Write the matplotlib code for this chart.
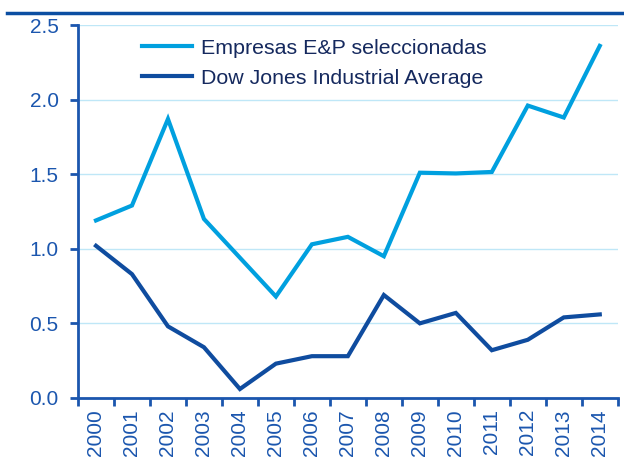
import matplotlib.pyplot as plt
from matplotlib.lines import Line2D

plt.rcParams['font.family'] = ['Liberation Sans', 'DejaVu Sans']

years = ['2000', '2001', '2002', '2003', '2004', '2005', '2006', '2007',
         '2008', '2009', '2010', '2011', '2012', '2013', '2014']
empresas = [1.19, 1.29, 1.87, 1.20, 0.94, 0.68, 1.03, 1.08,
            0.95, 1.51, 1.505, 1.515, 1.96, 1.88, 2.36]
dow_jones = [1.02, 0.83, 0.48, 0.34, 0.06, 0.23, 0.28, 0.28,
             0.69, 0.50, 0.57, 0.32, 0.39, 0.54, 0.56]
labels = ['Empresas E&P seleccionadas', 'Dow Jones Industrial Average']

light = '#00A0DF'
dark = '#0F4C9F'
axis_c = '#1B56AE'

fig = plt.figure(figsize=(6.24, 4.59), dpi=100)
ax = fig.add_axes([0.125, 0.133, 0.865, 0.8125])

x = list(range(len(years)))
ax.plot(x, empresas, c=light, lw=3, solid_joinstyle='miter', label=labels[0])
ax.plot(x, dow_jones, c=dark, lw=3, solid_joinstyle='miter', label=labels[1])

ax.set_xlim(-0.5, len(years) - 0.5)
ax.set_ylim(0, 2.5)
ax.set_yticks([0, 0.5, 1.0, 1.5, 2.0, 2.5])
ax.set_yticklabels(['0.0', '0.5', '1.0', '1.5', '2.0', '2.5'])
ax.set_xticks([i + 0.5 for i in range(-1, len(years))])
ax.set_xticklabels([])
ax.set_xticks(x, minor=True)
ax.set_xticklabels(years, minor=True, rotation=90)
ax.tick_params(axis='x', which='minor', length=0, pad=8, labelsize=15, labelcolor=axis_c)
ax.tick_params(axis='x', which='major', length=6, width=2, color=axis_c, direction='out')
ax.tick_params(axis='y', length=6, width=2, color=axis_c, labelsize=15, labelcolor=axis_c, pad=8)

ax.grid(axis='y', color='#BFE7F7', lw=1)
ax.set_axisbelow(True)
for s in ['top', 'right']:
    ax.spines[s].set_visible(False)
for s in ['left', 'bottom']:
    ax.spines[s].set_color(axis_c)
    ax.spines[s].set_linewidth(2)

leg = ax.legend(loc='upper left', bbox_to_anchor=(0.118, 0.963), frameon=False,
                fontsize=15.4, handlelength=2.35, handletextpad=0.4, labelspacing=0.5,
                borderaxespad=0, borderpad=0)
for t in leg.get_texts():
    t.set_color('#15295E')

fig.add_artist(Line2D([7 / 624, 1], [1 - 13 / 459, 1 - 13 / 459], color='#0B4EA2', lw=2.5))

fig.savefig('out.png', dpi=100)
